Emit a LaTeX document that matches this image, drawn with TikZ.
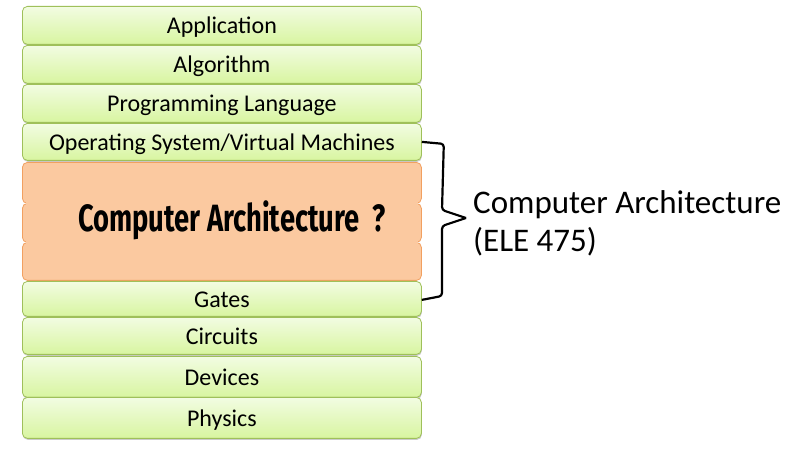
\documentclass[tikz,border=0pt]{standalone}
\usepackage{fontspec}
\setmainfont{Carlito}
\newfontfamily\titlefont{Fira Sans}
\usetikzlibrary{shadows}
\definecolor{gtop}{HTML}{F2FCE2}
\definecolor{gbot}{HTML}{D8F5A0}
\definecolor{gborder}{HTML}{9FC05A}
\definecolor{ofill}{HTML}{FBC9A0}
\definecolor{oborder}{HTML}{F2A060}
\tikzset{
  layer/.style={rectangle, rounded corners=5pt, draw=gborder, line width=0.8pt,
    top color=gtop, bottom color=gbot, minimum width=399pt, anchor=north west,
    inner sep=0pt, font=\fontsize{24}{26}\selectfont, text height=20pt, text depth=3pt,
    drop shadow={shadow xshift=0.5pt, shadow yshift=-1.5pt, fill=black!40, opacity=0.5}},
  olayer/.style={rectangle, rounded corners=5pt, draw=oborder, line width=0.8pt,
    fill=ofill, minimum width=399pt, anchor=north west, inner sep=0pt},
  bracket/.style={line width=2.2pt, black, rounded corners=3pt},
}
\begin{document}
\begin{tikzpicture}[x=1pt,y=-1pt]
\useasboundingbox[fill=white] (0,0) rectangle (812,462);
% orange layers
\node[olayer, minimum height=41pt] (o1) at (22,162) {};
\node[olayer, minimum height=39pt] (o2) at (22,203) {};
\node[olayer, minimum height=38pt] (o3) at (22,242) {};
\fill[ofill] ([xshift=4pt,yshift=-4pt]o1.north west) rectangle ([xshift=-4pt,yshift=4pt]o3.south east);
\node[font=\titlefont\bfseries\fontsize{38}{40}\selectfont] (title) at (232,220)
  {\scalebox{0.72}[1]{Computer Architecture\ \ ?}};
% green layers
\node[layer, minimum height=38pt] (app) at (22,6) {Application};
\node[layer, minimum height=38pt] (alg) at (22,45) {Algorithm};
\node[layer, minimum height=38pt] (pl) at (22,84) {Programming Language};
\node[layer, minimum height=37pt] (os) at (22,123) {Operating System/Virtual Machines};
\node[layer, minimum height=35pt] (gates) at (22,281) {Gates};
\node[layer, minimum height=37pt] (circ) at (22,317) {Circuits};
\node[layer, minimum height=41pt] (dev) at (22,356) {Devices};
\node[layer, minimum height=41pt] (phys) at (22,397) {Physics};
% bracket
\coordinate (btop) at (os.east);
\coordinate (bbot) at ([yshift=-1pt]gates.east);
\coordinate (btip) at (466,218);
\draw[bracket] (btop) -- ++(22,2) -- (442,210) -- (btip);
\draw[bracket] (btip) -- (442,226) -- (442,296) -- (bbot);
% label
\node[anchor=west, align=left, font=\fontsize{33}{38}\selectfont, inner sep=0pt] (lab) at (473,223)
  {Computer Architecture\\(ELE 475)};
\end{tikzpicture}
\end{document}
